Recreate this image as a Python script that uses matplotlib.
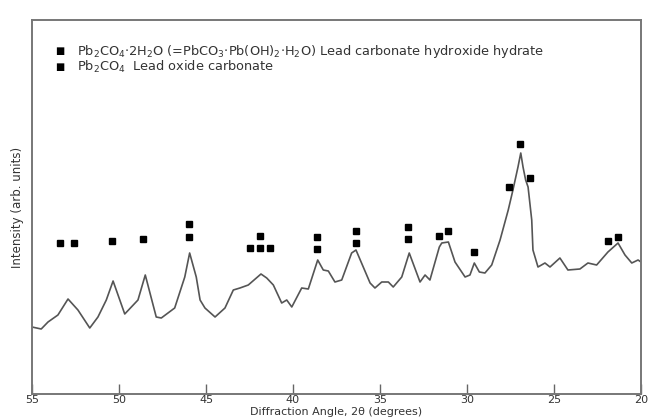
import matplotlib
matplotlib.use("Agg")
import matplotlib.pyplot as plt

# Diffraction angle (2theta, degrees) and intensity (arb. units)
angle = [55.0, 54.47, 54.08, 53.51, 52.93, 52.36, 51.68, 51.21, 50.73, 50.34,
         49.67, 48.91, 48.49, 47.86, 47.57, 46.80, 46.22, 45.94, 45.56, 45.34,
         45.06, 44.48, 43.91, 43.43, 43.05, 42.57, 41.84, 41.51, 41.13, 40.65,
         40.36, 40.07, 39.50, 39.12, 38.58, 38.26, 37.97, 37.59, 37.20, 36.63,
         36.38, 35.57, 35.29, 34.90, 34.52, 34.24, 33.75, 33.32, 32.70, 32.41,
         32.13, 31.59, 31.45, 31.07, 30.69, 30.11, 29.83, 29.58, 29.29, 28.97,
         28.58, 28.10, 27.63, 27.36, 27.07, 26.91, 26.78, 26.63, 26.49, 26.28,
         26.21, 25.92, 25.52, 25.23, 24.66, 24.20, 23.51, 23.05, 22.55, 21.90,
         21.32, 20.92, 20.53, 20.17, 20.0]
intensity = [67, 65, 72, 79, 95, 84, 66, 77, 94, 113,
             80, 94, 119, 77, 76, 86, 117, 141, 117, 94,
             86, 77, 86, 104, 106, 109, 120, 116, 109, 91,
             94, 87, 106, 105, 134, 124, 123, 112, 114, 141,
             144, 111, 106, 112, 112, 107, 117, 141, 112, 119,
             114, 147, 151, 152, 132, 117, 119, 131, 122, 121,
             129, 154, 184, 204, 227, 241, 227, 214, 207, 174,
             144, 127, 131, 127, 136, 124, 125, 131, 129, 142,
             151, 139, 131, 134, 132]

# Peak markers: (angle, height)
marker_angle = [53.4, 52.6, 50.4, 48.6, 46.0, 46.0, 42.5, 41.9, 41.9, 41.3,
                38.6, 38.6, 36.4, 36.4, 33.4, 33.4, 31.6, 31.1, 29.6,
                27.6, 26.95, 26.4, 21.9, 21.3]
marker_height = [151, 151, 153, 155, 157, 170, 146, 146, 158, 146,
                 145, 157, 151, 163, 155, 167, 158, 163, 142,
                 207, 250, 216, 153, 157]

legend_labels = [r'Pb$_2$CO$_4$$\cdot$2H$_2$O (=PbCO$_3$$\cdot$Pb(OH)$_2$$\cdot$H$_2$O) Lead carbonate hydroxide hydrate',
                 r'Pb$_2$CO$_4$  Lead oxide carbonate']
xticks = [55, 50, 45, 40, 35, 30, 25, 20]

fig = plt.figure(figsize=(6.49, 4.19), dpi=100)
ax = fig.add_axes([32/649, 25/419, 609/649, 374/419])

ax.plot(angle, intensity, color='#555555', lw=1.2)
ax.plot(marker_angle, marker_height, 's', color='black', ms=4.5, ls='none')

ax.set_xlim(55, 20)
ax.set_ylim(0, 374)
ax.set_xticks(xticks)
ax.set_xticklabels([str(t) for t in xticks], fontsize=8)
ax.tick_params(axis='x', direction='in', length=7, width=1, colors='#666666',
               labelcolor='#333333', pad=0.5)
ax.set_yticks([])
for s in ax.spines.values():
    s.set_color('#777777')
    s.set_linewidth(1.4)

fig.text(336/649, 1 - 412/419, 'Diffraction Angle, 2θ (degrees)', fontsize=8,
         color='#333333', ha='center', va='center')
ax.set_ylabel('Intensity (arb. units)', fontsize=8.5, color='#333333', labelpad=6)

# Legend entries
for i, lab in enumerate(legend_labels):
    yfig = 1 - (51 + 16*i)/419
    fig.text(60/649, yfig, '■', fontsize=7, color='black', ha='center', va='center')
    fig.text(77/649, yfig, lab, fontsize=9.3, color='#333333', ha='left', va='center')

fig.savefig('out.png', dpi=100)
